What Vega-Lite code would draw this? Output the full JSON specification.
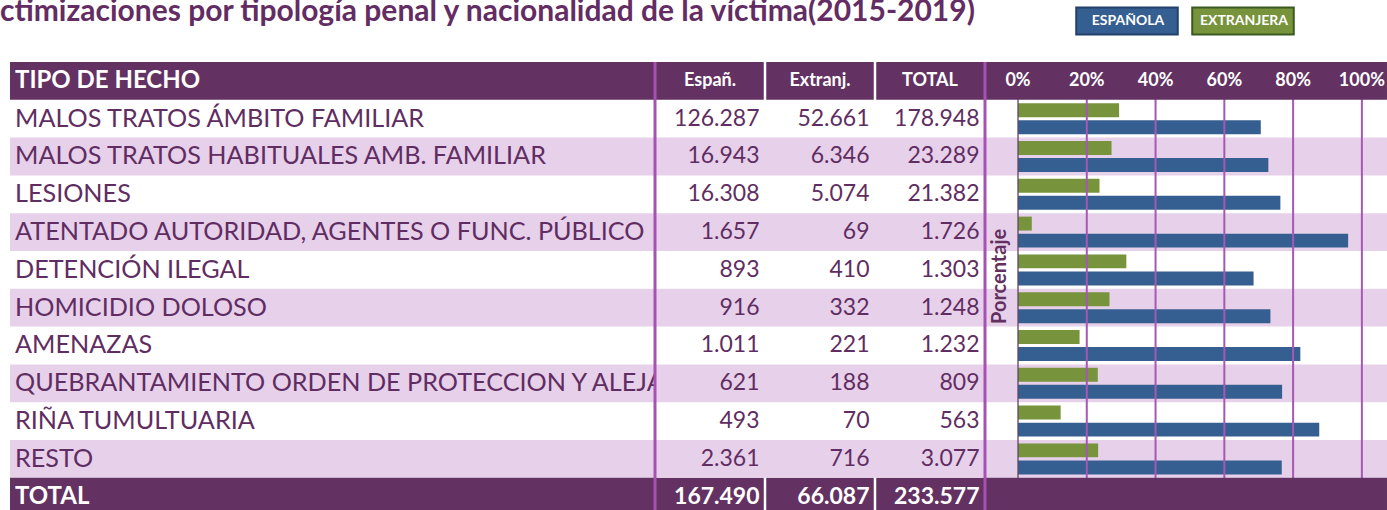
{
  "$schema": "https://vega.github.io/schema/vega-lite/v6.json",
  "padding": {"left": 0, "top": -4, "right": 0, "bottom": 0},
  "background": "white",
  "bounds": "flush",
  "title": {"text": "ctimizaciones por tipología penal y nacionalidad de la víctima(2015-2019)", "anchor": "start", "frame": "group", "font": "Lato", "fontSize": 30, "fontWeight": "bold", "color": "#632c63", "offset": -20, "dx": -10},
  "datasets": {
    "rows": [
      {"row": 0, "hecho": "TIPO DE HECHO"},
      {"row": 1, "hecho": "MALOS TRATOS ÁMBITO FAMILIAR", "esp": 126287, "ext": 52661, "tot": 178948, "ESPAÑOLA": 70.6, "EXTRANJERA": 29.4},
      {"row": 2, "hecho": "MALOS TRATOS HABITUALES AMB. FAMILIAR", "esp": 16943, "ext": 6346, "tot": 23289, "ESPAÑOLA": 72.8, "EXTRANJERA": 27.2},
      {"row": 3, "hecho": "LESIONES", "esp": 16308, "ext": 5074, "tot": 21382, "ESPAÑOLA": 76.3, "EXTRANJERA": 23.7},
      {"row": 4, "hecho": "ATENTADO AUTORIDAD, AGENTES O FUNC. PÚBLICO", "esp": 1657, "ext": 69, "tot": 1726, "ESPAÑOLA": 96.0, "EXTRANJERA": 4.0},
      {"row": 5, "hecho": "DETENCIÓN ILEGAL", "esp": 893, "ext": 410, "tot": 1303, "ESPAÑOLA": 68.5, "EXTRANJERA": 31.5},
      {"row": 6, "hecho": "HOMICIDIO DOLOSO", "esp": 916, "ext": 332, "tot": 1248, "ESPAÑOLA": 73.4, "EXTRANJERA": 26.6},
      {"row": 7, "hecho": "AMENAZAS", "esp": 1011, "ext": 221, "tot": 1232, "ESPAÑOLA": 82.1, "EXTRANJERA": 17.9},
      {"row": 8, "hecho": "QUEBRANTAMIENTO ORDEN DE PROTECCION Y ALEJA", "esp": 621, "ext": 188, "tot": 809, "ESPAÑOLA": 76.8, "EXTRANJERA": 23.2},
      {"row": 9, "hecho": "RIÑA TUMULTUARIA", "esp": 493, "ext": 70, "tot": 563, "ESPAÑOLA": 87.6, "EXTRANJERA": 12.4},
      {"row": 10, "hecho": "RESTO", "esp": 2361, "ext": 716, "tot": 3077, "ESPAÑOLA": 76.7, "EXTRANJERA": 23.3},
      {"row": 11, "hecho": "TOTAL", "esp": 167490, "ext": 66087, "tot": 233577}
    ],
    "cols": [
      {"col": "esp", "titulo": "Españ."},
      {"col": "ext", "titulo": "Extranj."},
      {"col": "tot", "titulo": "TOTAL"}
    ],
    "ticks": [
      {"v": 0, "label": "0%"},
      {"v": 20, "label": "20%"},
      {"v": 40, "label": "40%"},
      {"v": 60, "label": "60%"},
      {"v": 80, "label": "80%"},
      {"v": 100, "label": "100%"}
    ]
  },
  "spacing": 0,
  "resolve": {"scale": {"y": "shared", "color": "shared"}, "legend": {"color": "shared"}},
  "hconcat": [
    {
      "width": 645,
      "height": 453.6,
      "data": {"name": "rows"},
      "encoding": {
        "y": {"field": "row", "type": "ordinal", "scale": {"domain": [0,1,2,3,4,5,6,7,8,9,10,11], "paddingInner": 0, "paddingOuter": 0}, "axis": null}
      },
      "layer": [
        {"transform": [{"filter": "datum.row > 0 && datum.row < 11 && datum.row % 2 == 0"}], "mark": {"type": "rect", "color": "#e7d0ea"}},
        {"transform": [{"filter": "datum.row == 0 || datum.row == 11"}], "mark": {"type": "rect", "color": "#633263"}},
        {
          "transform": [{"filter": "datum.row > 0 && datum.row < 11"}],
          "mark": {"type": "text", "align": "left", "baseline": "middle", "dx": 5, "font": "Lato", "fontSize": 25.2, "color": "#5f2d62"},
          "encoding": {
            "x": {"datum": "hecho", "type": "nominal", "scale": {"type": "point", "padding": 0, "align": 0}, "axis": null},
            "text": {"field": "hecho"}
          }
        },
        {
          "transform": [{"filter": "datum.row == 0 || datum.row == 11"}],
          "mark": {"type": "text", "align": "left", "baseline": "middle", "dx": 5, "font": "Lato", "fontSize": 24, "fontWeight": "bold", "color": "white"},
          "encoding": {
            "x": {"datum": "hecho", "type": "nominal"},
            "text": {"field": "hecho"}
          }
        }
      ]
    },
    {
      "width": 330,
      "height": 453.6,
      "layer": [
        {
          "data": {"name": "rows"},
          "transform": [{"filter": "datum.row == 0 || datum.row == 11"}],
          "mark": {"type": "rect", "color": "#633263"},
          "encoding": {"y": {"field": "row", "type": "ordinal", "scale": {"domain": [0,1,2,3,4,5,6,7,8,9,10,11], "paddingInner": 0, "paddingOuter": 0}, "axis": null}}
        },
        {
          "data": {"name": "cols"},
          "transform": [{"filter": "datum.col != 'esp'"}],
          "mark": {"type": "rule", "color": "white", "strokeWidth": 2.5},
          "encoding": {"x": {"field": "col", "type": "nominal", "bandPosition": 0, "scale": {"domain": ["esp", "ext", "tot"], "paddingInner": 0, "paddingOuter": 0}, "axis": null}}
        },
        {
          "data": {"name": "rows"},
          "transform": [{"filter": "datum.row > 0 && datum.row < 11 && datum.row % 2 == 0"}],
          "mark": {"type": "rect", "color": "#e7d0ea"},
          "encoding": {"y": {"field": "row", "type": "ordinal"}}
        },
        {
          "data": {"name": "rows"},
          "transform": [{"filter": "datum.row > 0 && datum.row < 11"}, {"fold": ["esp", "ext", "tot"], "as": ["col", "val"]}],
          "mark": {"type": "text", "align": "right", "baseline": "middle", "dx": -5.5, "font": "Lato", "fontSize": 23, "color": "#5f2d62"},
          "encoding": {
            "x": {"field": "col", "type": "nominal", "bandPosition": 1},
            "y": {"field": "row", "type": "ordinal"},
            "text": {"field": "val", "type": "quantitative", "format": ",d"}
          }
        },
        {
          "data": {"name": "rows"},
          "transform": [{"filter": "datum.row == 11"}, {"fold": ["esp", "ext", "tot"], "as": ["col", "val"]}],
          "mark": {"type": "text", "align": "right", "baseline": "middle", "dx": -5.5, "font": "Lato", "fontSize": 23, "fontWeight": "bold", "color": "white"},
          "encoding": {
            "x": {"field": "col", "type": "nominal", "bandPosition": 1},
            "y": {"field": "row", "type": "ordinal"},
            "text": {"field": "val", "type": "quantitative", "format": ",d"}
          }
        },
        {
          "data": {"name": "cols"},
          "mark": {"type": "text", "align": "center", "baseline": "middle", "font": "Lato", "fontSize": 18, "fontWeight": "bold", "color": "white"},
          "encoding": {
            "x": {"field": "col", "type": "nominal"},
            "y": {"datum": 0, "type": "ordinal"},
            "text": {"field": "titulo"}
          }
        },
        {
          "data": {"name": "cols"},
          "transform": [{"filter": "datum.col == 'esp'"}],
          "mark": {"type": "rule", "color": "#a552b3", "strokeWidth": 3},
          "encoding": {"x": {"field": "col", "type": "nominal", "bandPosition": 0}}
        }
      ]
    },
    {
      "width": 402,
      "height": 453.6,
      "layer": [
        {
          "data": {"name": "rows"},
          "transform": [{"filter": "datum.row > 0 && datum.row < 11 && datum.row % 2 == 0"}],
          "mark": {"type": "rect", "color": "#e7d0ea"},
          "encoding": {"y": {"field": "row", "type": "ordinal", "scale": {"domain": [0,1,2,3,4,5,6,7,8,9,10,11], "paddingInner": 0, "paddingOuter": 0}, "axis": null}}
        },
        {
          "data": {"name": "rows"},
          "transform": [{"filter": "datum.row > 0 && datum.row < 11"}, {"fold": ["ESPAÑOLA", "EXTRANJERA"], "as": ["nac", "pct"]}],
          "mark": {"type": "bar"},
          "encoding": {
            "y": {"field": "row", "type": "ordinal"},
            "yOffset": {"field": "nac", "type": "nominal", "scale": {"domain": ["EXTRANJERA", "ESPAÑOLA"], "paddingInner": 0.18, "paddingOuter": 0.2}},
            "x": {"field": "pct", "type": "quantitative", "scale": {"domain": [-9.6, 107.3], "nice": false, "zero": false}, "axis": null},
            "x2": {"datum": 0},
            "color": {
              "field": "nac", "type": "nominal",
              "scale": {"domain": ["ESPAÑOLA", "EXTRANJERA"], "range": ["#365f91", "#77933c"]},
              "legend": {
                "title": null, "orient": "none", "legendX": 1102.5, "legendY": -55.4, "direction": "horizontal", "columns": 2, "columnPadding": 5,
                "symbolType": "M-3.76,-1H3.76V1H-3.76Z", "symbolSize": 729, "symbolStrokeWidth": 2, "symbolOpacity": 1,
                "labelOffset": -13.5, "labelAlign": "center", "labelColor": "white", "labelFont": "Lato", "labelFontWeight": "bold", "labelFontSize": 14, "labelLimit": 200,
                "encode": {"symbols": {"update": {"stroke": {"signal": "datum.value == 'ESPAÑOLA' ? '#22406b' : '#3b5a1f'"}}}}
              }
            }
          }
        },
        {
          "data": {"name": "ticks"},
          "transform": [{"filter": "datum.v > 0"}],
          "mark": {"type": "rule", "color": "#a658b4", "strokeWidth": 2},
          "encoding": {"x": {"field": "v", "type": "quantitative"}}
        },
        {
          "data": {"name": "ticks"},
          "transform": [{"filter": "datum.v == 0"}],
          "mark": {"type": "rule", "color": "#5e4560", "strokeWidth": 1.3},
          "encoding": {"x": {"field": "v", "type": "quantitative"}}
        },
        {
          "data": {"name": "rows"},
          "transform": [{"filter": "datum.row == 0 || datum.row == 11"}],
          "mark": {"type": "rect", "color": "#633263"},
          "encoding": {"y": {"field": "row", "type": "ordinal"}}
        },
        {
          "data": {"name": "ticks"},
          "mark": {"type": "text", "align": "center", "baseline": "middle", "font": "Lato", "fontSize": 18, "fontWeight": "bold", "color": "white"},
          "encoding": {
            "x": {"field": "v", "type": "quantitative"},
            "y": {"datum": 0, "type": "ordinal"},
            "text": {"field": "label"}
          }
        },
        {
          "data": {"values": [{"t": "Porcentaje"}]},
          "mark": {"type": "text", "angle": 270, "align": "center", "baseline": "middle", "dx": -6.5, "font": "Lato", "fontSize": 20, "fontWeight": "bold", "color": "#62305f"},
          "encoding": {
            "x": {"datum": -5.2, "type": "quantitative"},
            "y": {"datum": 5, "type": "ordinal"},
            "text": {"field": "t"}
          }
        },
        {
          "data": {"values": [{"v": -9.6}]},
          "mark": {"type": "rule", "color": "#a552b3", "strokeWidth": 3},
          "encoding": {"x": {"field": "v", "type": "quantitative"}}
        }
      ]
    }
  ],
  "config": {
    "view": {"stroke": null},
    "font": "Lato",
    "locale": {"number": {"decimal": ",", "thousands": ".", "grouping": [3], "currency": ["", " €"]}}
  }
}
